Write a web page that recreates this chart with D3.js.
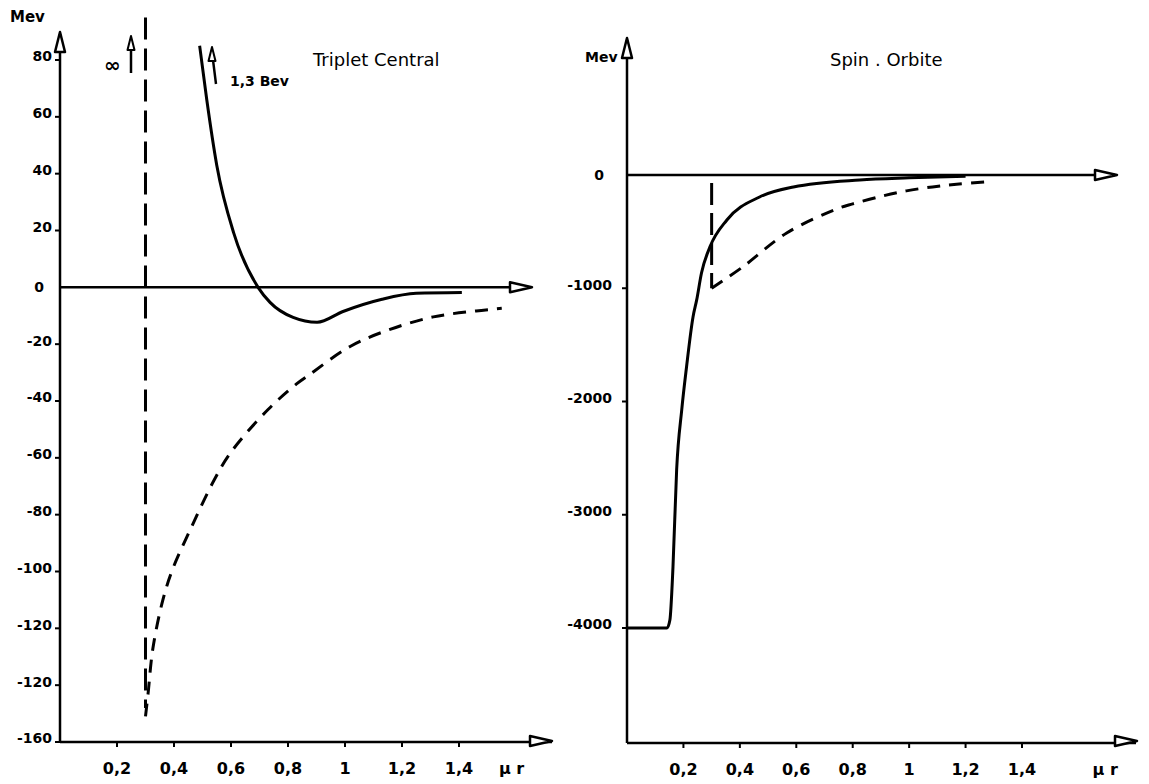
<!DOCTYPE html>
<html><head><meta charset="utf-8">
<script src="https://cdn.jsdelivr.net/npm/d3@7"></script>
<style>
html,body{margin:0;padding:0;background:#fff;}
svg{display:block;}
text{font-family:"DejaVu Sans",sans-serif;fill:#000;}
</style></head>
<body>
<script>
// ---------- data ----------
const xTicks = [0.2, 0.4, 0.6, 0.8, 1, 1.2, 1.4];
const xTickLabels = ["0,2", "0,4", "0,6", "0,8", "1", "1,2", "1,4"];

const leftYTicks = [80, 60, 40, 20, 0, -20, -40, -60, -80, -100, -120, -140, -160];
const leftYTickLabels = ["80", "60", "40", "20", "0", "-20", "-40", "-60", "-80", "-100", "-120", "-120", "-160"];

const rightYTicks = [0, -1000, -2000, -3000, -4000];
const rightYTickLabels = ["0", "-1000", "-2000", "-3000", "-4000"];

// Triplet Central: solid curve
const tcSolidR = [0.49, 0.515, 0.55, 0.61, 0.695, 0.737, 0.818, 0.902, 0.993, 1.13, 1.25, 1.41];
const tcSolidV = [85, 66, 43, 19, 0, -5.3, -10.6, -12.3, -8.5, -4.2, -2.1, -1.8];
// Triplet Central: dashed curve
const tcDashR = [0.30, 0.309, 0.326, 0.361, 0.396, 0.463, 0.54, 0.60, 0.73, 0.83, 0.877, 1.018, 1.158, 1.31, 1.46, 1.55];
const tcDashV = [-151, -143, -127, -110, -99, -84, -68, -58, -43, -34, -30.6, -20.8, -14.8, -10.4, -8.3, -7.4];
// Triplet Central: vertical dashed (hard core)
const tcCoreR = 0.30;
const tcCoreV = [95, -148];

// Spin Orbite: solid curve
const soSolidR = [0, 0.142, 0.152, 0.163, 0.176, 0.194, 0.211, 0.234, 0.247, 0.264, 0.294, 0.354, 0.47, 0.59, 0.825, 1.0, 1.2];
const soSolidV = [-4000, -4000, -3930, -3460, -2600, -2074, -1695, -1253, -1103, -865, -635, -397, -194, -106, -44, -25, -10];
// Spin Orbite: dashed curve
const soDashR = [0.30, 0.41, 0.566, 0.743, 0.80, 0.906, 0.99, 1.083, 1.168, 1.27];
const soDashV = [-1000, -812, -512, -300, -255, -185, -140, -105, -82, -62];
const soCoreR = 0.30;
const soCoreV = [-70, -1000];

// ---------- drawing ----------
const W = 1149, H = 784;
const svg = d3.select("body").append("svg").attr("width", W).attr("height", H);

const xL = d3.scaleLinear().domain([0, 1.4]).range([60, 459]);
const yL = d3.scaleLinear().domain([-160, 80]).range([742, 60]);
const xR = d3.scaleLinear().domain([0, 1.4]).range([627, 1022]);
const yR = d3.scaleLinear().domain([-4000, 0]).range([628, 175]);

function arrowRight(g, x, y) {
  g.append("path").attr("d", `M${x - 22},${y - 5} L${x},${y} L${x - 22},${y + 5} Z`)
    .attr("fill", "#fff").attr("stroke", "#000").attr("stroke-width", 2.5).attr("stroke-linejoin", "round");
}
function arrowUp(g, x, y) {
  g.append("path").attr("d", `M${x - 5},${y + 20} L${x},${y} L${x + 5},${y + 20} Z`)
    .attr("fill", "#fff").attr("stroke", "#000").attr("stroke-width", 2.5).attr("stroke-linejoin", "round");
}
function arrowUpSmall(g, x, y) {
  g.append("path").attr("d", `M${x - 3.5},${y + 14} L${x},${y} L${x + 3.5},${y + 14} Z`)
    .attr("fill", "#fff").attr("stroke", "#000").attr("stroke-width", 2).attr("stroke-linejoin", "round");
}
function yTickMarks(g, xs, ys, ticks, labels, lx) {
  ticks.forEach((t, i) => {
    if (t === 0) {
      g.append("text").attr("x", lx - 8).attr("y", ys(t)).attr("dy", "0.35em")
        .attr("text-anchor", "end").attr("font-size", 14).attr("font-weight", "bold").text(labels[i]);
      return;
    }
    g.append("line").attr("x1", xs(0) - 5).attr("x2", xs(0)).attr("y1", ys(t)).attr("y2", ys(t))
      .attr("stroke", "#000").attr("stroke-width", 2);
    g.append("text").attr("x", lx).attr("y", ys(t)).attr("dy", "0.1em")
      .attr("text-anchor", "end").attr("font-size", 14).attr("font-weight", "bold").text(labels[i]);
  });
}
function xTickMarks(g, xs, yb) {
  xTicks.forEach((t, i) => {
    g.append("line").attr("x1", xs(t)).attr("x2", xs(t)).attr("y1", yb).attr("y2", yb + 5)
      .attr("stroke", "#000").attr("stroke-width", 2);
    g.append("text").attr("x", xs(t)).attr("y", yb + 32).attr("text-anchor", "middle")
      .attr("font-size", 16).attr("font-weight", "bold").text(xTickLabels[i]);
  });
}
const lineGen = (xs, ys, curve) => d3.line().x(d => xs(d[0])).y(d => ys(d[1])).curve(curve);
const zip = (a, b) => a.map((v, i) => [v, b[i]]);

// ---- Left panel ----
const gL = svg.append("g");
const yBottomL = yL(-160);
gL.append("line").attr("x1", xL(0)).attr("x2", xL(0)).attr("y1", yBottomL).attr("y2", 34)
  .attr("stroke", "#000").attr("stroke-width", 2.5);
arrowUp(gL, xL(0), 32);
gL.append("line").attr("x1", xL(0)).attr("x2", 552).attr("y1", yBottomL).attr("y2", yBottomL)
  .attr("stroke", "#000").attr("stroke-width", 2.5);
arrowRight(gL, 552, yBottomL - 1);
gL.append("line").attr("x1", xL(0)).attr("x2", 530).attr("y1", yL(0)).attr("y2", yL(0))
  .attr("stroke", "#000").attr("stroke-width", 2.5);
arrowRight(gL, 532, yL(0));
yTickMarks(gL, xL, yL, leftYTicks, leftYTickLabels, 52);
xTickMarks(gL, xL, yBottomL);

gL.append("line").attr("x1", xL(tcCoreR)).attr("x2", xL(tcCoreR))
  .attr("y1", yL(tcCoreV[0])).attr("y2", yL(tcCoreV[1]))
  .attr("stroke", "#000").attr("stroke-width", 3).attr("stroke-dasharray", "22,9");
gL.append("path").attr("d", lineGen(xL, yL, d3.curveCatmullRom)(zip(tcDashR, tcDashV)))
  .attr("fill", "none").attr("stroke", "#000").attr("stroke-width", 3).attr("stroke-dasharray", "13,9");
gL.append("path").attr("d", lineGen(xL, yL, d3.curveMonotoneX)(zip(tcSolidR, tcSolidV)))
  .attr("fill", "none").attr("stroke", "#000").attr("stroke-width", 3);

gL.append("text").attr("x", 10).attr("y", 22).attr("font-size", 15).attr("font-weight", "bold").text("Mev");
gL.append("text").attr("x", 104).attr("y", 72).attr("font-size", 20).attr("font-weight", "bold").text("∞");
gL.append("line").attr("x1", 131).attr("x2", 131).attr("y1", 73).attr("y2", 42).attr("stroke", "#000").attr("stroke-width", 2.5);
arrowUpSmall(gL, 131, 36);
gL.append("line").attr("x1", 216).attr("x2", 212).attr("y1", 84).attr("y2", 52).attr("stroke", "#000").attr("stroke-width", 2.5);
arrowUpSmall(gL, 212, 47);
gL.append("text").attr("x", 230).attr("y", 86).attr("font-size", 14).attr("font-weight", "bold").text("1,3 Bev");
gL.append("text").attr("x", 313).attr("y", 66).attr("font-size", 18).text("Triplet  Central");
gL.append("text").attr("x", xL(1.54)).attr("y", yBottomL + 32).attr("font-size", 16).attr("font-weight", "bold").text("μ r");

// ---- Right panel ----
const gR = svg.append("g");
const yBottomR = 743;
gR.append("line").attr("x1", xR(0)).attr("x2", xR(0)).attr("y1", yBottomR).attr("y2", 40)
  .attr("stroke", "#000").attr("stroke-width", 2.5);
arrowUp(gR, xR(0), 38);
gR.append("line").attr("x1", xR(0)).attr("x2", 1136).attr("y1", yBottomR).attr("y2", yBottomR)
  .attr("stroke", "#000").attr("stroke-width", 2.5);
arrowRight(gR, 1137, yBottomR - 2);
gR.append("line").attr("x1", xR(0)).attr("x2", 1115).attr("y1", yR(0)).attr("y2", yR(0))
  .attr("stroke", "#000").attr("stroke-width", 2.5);
arrowRight(gR, 1117, yR(0));
yTickMarks(gR, xR, yR, rightYTicks, rightYTickLabels, 612);
xTickMarks(gR, xR, yBottomR);

gR.append("line").attr("x1", xR(soCoreR)).attr("x2", xR(soCoreR))
  .attr("y1", yR(soCoreV[0])).attr("y2", yR(soCoreV[1]))
  .attr("stroke", "#000").attr("stroke-width", 3).attr("stroke-dasharray", "22,8");
gR.append("path").attr("d", lineGen(xR, yR, d3.curveCatmullRom)(zip(soDashR, soDashV)))
  .attr("fill", "none").attr("stroke", "#000").attr("stroke-width", 3).attr("stroke-dasharray", "13,9");
gR.append("path").attr("d", lineGen(xR, yR, d3.curveMonotoneX)(zip(soSolidR, soSolidV)))
  .attr("fill", "none").attr("stroke", "#000").attr("stroke-width", 3);

gR.append("text").attr("x", 585).attr("y", 62).attr("font-size", 14).attr("font-weight", "bold").text("Mev");
gR.append("text").attr("x", 830).attr("y", 66).attr("font-size", 18).text("Spin  . Orbite");
gR.append("text").attr("x", xR(1.65)).attr("y", yBottomR + 32).attr("font-size", 16).attr("font-weight", "bold").text("μ r");
</script>
</body></html>
